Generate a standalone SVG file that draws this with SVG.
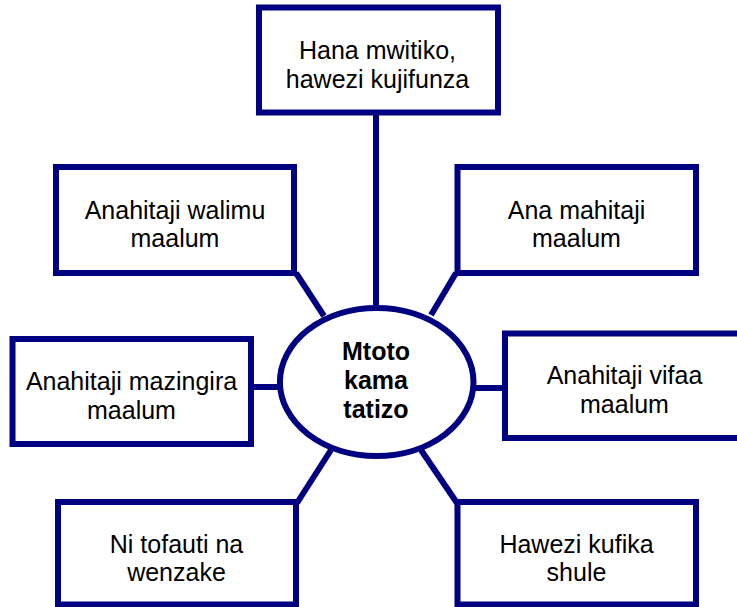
<svg xmlns="http://www.w3.org/2000/svg" width="737" height="607" viewBox="0 0 737 607">
<style>
.box{fill:#fff;stroke:#000080;stroke-width:6}
.ln{stroke:#000080;stroke-width:6;fill:none}
.t{font-family:"Liberation Sans",Arial,sans-serif;font-size:25px;fill:#000;text-anchor:middle}
.b{font-weight:bold}
</style>
<rect width="737" height="607" fill="#fff"/>
<g id="connectors">
<line class="ln" x1="376" y1="114" x2="376" y2="308"/>
<line class="ln" x1="296" y1="273" x2="324" y2="316"/>
<line class="ln" x1="456" y1="273" x2="431" y2="315"/>
<line class="ln" x1="250" y1="387" x2="281" y2="387"/>
<line class="ln" x1="472" y1="388" x2="506" y2="388"/>
<line class="ln" x1="331" y1="450" x2="297" y2="503"/>
<line class="ln" x1="421" y1="450" x2="457" y2="503"/>
</g>
<g id="center">
<ellipse class="box" cx="376.7" cy="382" rx="96.8" ry="74"/>
<text class="t b" x="376" y="360">Mtoto</text>
<text class="t b" x="376" y="389">kama</text>
<text class="t b" x="376" y="418">tatizo</text>
</g>
<g id="n-top">
<rect class="box" x="259" y="7.5" width="239" height="105"/>
<text class="t" x="377.5" y="59">Hana mwitiko,</text>
<text class="t" x="377.5" y="87.5">hawezi kujifunza</text>
</g>
<g id="n-tl">
<rect class="box" x="56" y="167" width="238" height="106"/>
<text class="t" x="175" y="218.5">Anahitaji walimu</text>
<text class="t" x="175" y="247">maalum</text>
</g>
<g id="n-tr">
<rect class="box" x="457.5" y="167" width="238.5" height="106"/>
<text class="t" x="576.5" y="218.5">Ana mahitaji</text>
<text class="t" x="576.5" y="247">maalum</text>
</g>
<g id="n-ml">
<rect class="box" x="12.5" y="339" width="238.5" height="105"/>
<text class="t" x="131.5" y="389.5">Anahitaji mazingira</text>
<text class="t" x="131.5" y="418.5">maalum</text>
</g>
<g id="n-mr">
<rect class="box" x="505" y="333.5" width="240" height="104.5"/>
<text class="t" x="624.5" y="383.5">Anahitaji vifaa</text>
<text class="t" x="624.5" y="412.5">maalum</text>
</g>
<g id="n-bl">
<rect class="box" x="58" y="502" width="238" height="102.5"/>
<text class="t" x="176.5" y="552.5">Ni tofauti na</text>
<text class="t" x="176.5" y="581">wenzake</text>
</g>
<g id="n-br">
<rect class="box" x="457.5" y="502" width="238.5" height="102.5"/>
<text class="t" x="576.5" y="552.5">Hawezi kufika</text>
<text class="t" x="576.5" y="581">shule</text>
</g>
</svg>
